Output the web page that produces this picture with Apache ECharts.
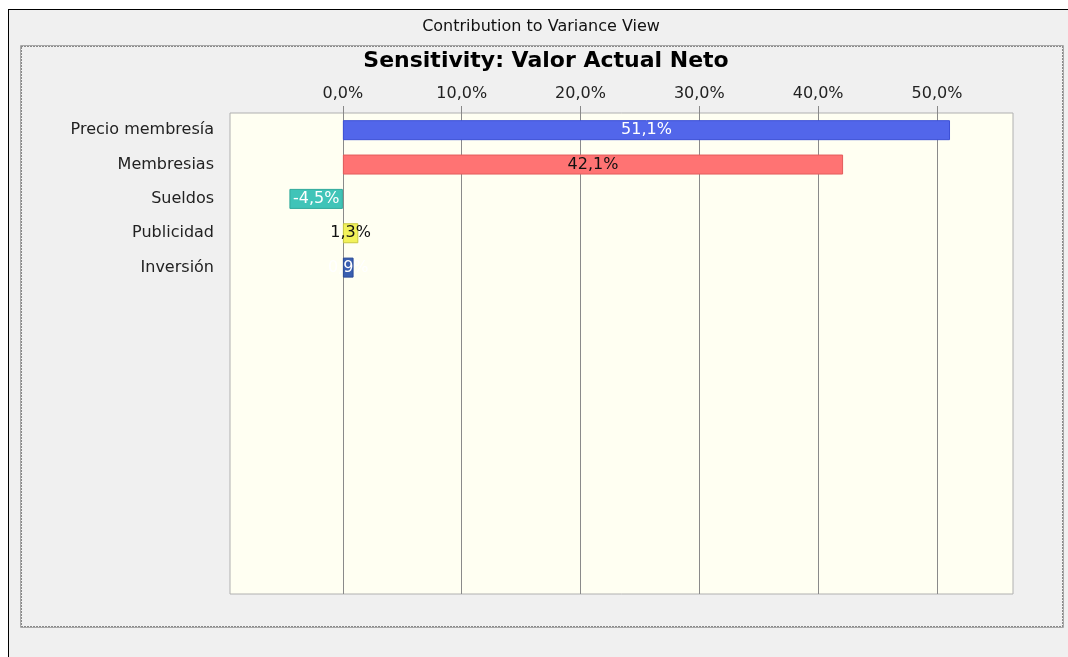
<!DOCTYPE html>
<html>
<head>
<meta charset="utf-8">
<script src="https://cdn.jsdelivr.net/npm/echarts@6/dist/echarts.min.js"></script>
<style>
html,body{margin:0;padding:0;background:#fff;}
#main{width:1068px;height:657px;}
</style>
</head>
<body>
<div id="main"></div>
<script>
// datos
var categorias = ['Precio membresía', 'Membresias', 'Sueldos', 'Publicidad', 'Inversión'];
var valores = [51.1, 42.1, -4.5, 1.3, 0.9];
var colores = ['#5266ea', '#ff7373', '#40c4b8', '#f2f25a', '#3a5fb0'];
var bordes = ['#3b4fd6', '#e35c5c', '#2fa99b', '#c9c93e', '#2a4a98'];
var colorEtiqueta = ['#ffffff', '#111111', '#ffffff', '#111111', '#ffffff'];
var marcas = [0, 10, 20, 30, 40, 50];

var fuente = 'DejaVu Sans';

function pct(v){
	return v.toFixed(1).replace('.', ',') + '%';
}

// relleno de categorias vacias para que las barras queden arriba
var ejeY = categorias.slice();
while(ejeY.length < 14){ ejeY.push(''); }

var datos = [];
for(var i = 0; i < valores.length; i++){
	datos.push({
		value: valores[i],
		itemStyle: { color: colores[i], borderColor: bordes[i], borderWidth: 1 },
		label: { color: colorEtiqueta[i] }
	});
}

var myChart = echarts.init(document.getElementById('main'));

var option = {
	backgroundColor: '#ffffff',
	animation: false,
	title: [{
		text: 'Contribution to Variance View',
		left: 536, top: 14, textAlign: 'center',
		textStyle: { fontFamily: fuente, fontSize: 16, fontWeight: 'normal', color: '#111' }
	}, {
		text: 'Sensitivity: Valor Actual Neto',
		left: 541, top: 45, textAlign: 'center',
		textStyle: { fontFamily: fuente, fontSize: 22, fontWeight: 'bold', color: '#000' }
	}],
	graphic: [
		{ type: 'rect', z: -10, shape: { x: 8, y: 9, width: 1060, height: 648 }, style: { fill: '#f0f0f0' } },
		{ type: 'line', z: -9, shape: { x1: 8, y1: 9.5, x2: 1068, y2: 9.5 }, style: { stroke: '#000', lineWidth: 1 } },
		{ type: 'line', z: -9, shape: { x1: 8.5, y1: 9, x2: 8.5, y2: 657 }, style: { stroke: '#000', lineWidth: 1 } },
		{ type: 'rect', z: -9, shape: { x: 20.5, y: 45.5, width: 1043, height: 582 }, style: { fill: null, stroke: '#a8a8a8', lineWidth: 1 } },
		{ type: 'rect', z: -9, shape: { x: 21.5, y: 46.5, width: 1041, height: 580 }, style: { fill: null, stroke: '#222', lineWidth: 1, lineDash: [1, 2] } }
	],
	grid: {
		left: 230, top: 113, width: 783, height: 481,
		show: true, backgroundColor: '#fffff2', borderColor: '#b0b0b0', borderWidth: 1
	},
	xAxis: {
		type: 'value',
		position: 'top',
		min: -9.5, max: 56.4,
		splitNumber: 7,
		axisLine: { show: false },
		axisTick: { show: true, length: 7, customValues: marcas, lineStyle: { color: '#888' } },
		axisLabel: {
			customValues: marcas,
			margin: 11,
			fontFamily: fuente, fontSize: 16, color: '#222',
			formatter: function(v){ return pct(v); }
		},
		splitLine: { show: true, lineStyle: { color: '#8a8a8a', width: 1 } }
	},
	yAxis: {
		type: 'category',
		inverse: true,
		data: ejeY,
		axisLine: { show: false },
		axisTick: { show: false },
		axisLabel: { margin: 16, fontFamily: fuente, fontSize: 16, color: '#222' }
	},
	series: [{
		type: 'bar',
		barWidth: 20,
		data: datos,
		label: {
			show: true,
			position: 'inside',
			fontFamily: fuente, fontSize: 16,
			formatter: function(p){ return pct(p.value); }
		}
	}]
};

myChart.setOption(option);
</script>
</body>
</html>
